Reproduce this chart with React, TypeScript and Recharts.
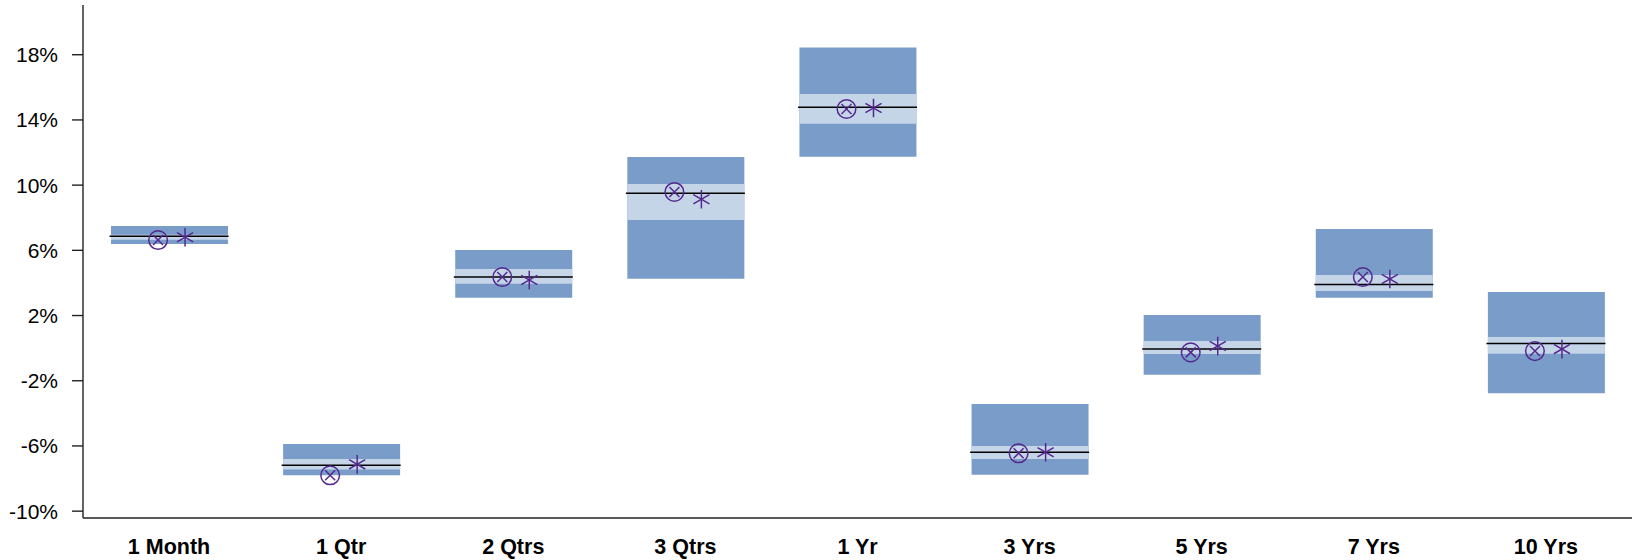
import { ComposedChart, Bar, Scatter, XAxis, YAxis } from "recharts";

const categories = ["1 Month", "1 Qtr", "2 Qtrs", "3 Qtrs", "1 Yr", "3 Yrs", "5 Yrs", "7 Yrs", "10 Yrs"];
const outerLow = [6.39, -7.8, 3.09, 4.26, 11.74, -7.77, -1.63, 3.09, -2.77];
const outerHigh = [7.49, -5.88, 6.02, 11.72, 18.45, -3.43, 2.03, 7.31, 3.44];
const innerLow = [6.65, -7.44, 3.95, 7.86, 13.77, -6.8, -0.36, 3.5, -0.34];
const innerHigh = [6.95, -6.8, 4.85, 10.07, 15.59, -6.01, 0.44, 4.48, 0.68];
const medians = [6.86, -7.19, 4.36, 9.5, 14.77, -6.39, -0.06, 3.91, 0.29];
const means = [6.63, -7.8, 4.36, 9.58, 14.67, -6.45, -0.26, 4.36, -0.18];
const stars = [6.8, -7.13, 4.18, 9.13, 14.73, -6.39, 0.13, 4.24, -0.06];
const yTicks = [-10, -6, -2, 2, 6, 10, 14, 18];

const data = categories.map((name, i) => ({
  name,
  outer: [outerLow[i], outerHigh[i]],
  inner: [innerLow[i], innerHigh[i]],
  median: medians[i],
  mean: means[i],
  star: stars[i],
}));

const PURPLE = "#55288f";
const BOX_W = 117;

const MedianLine = (props: any) => {
  const { cx, cy } = props;
  return <line x1={cx - BOX_W / 2 - 1} x2={cx + BOX_W / 2 + 1} y1={cy} y2={cy} stroke="#000" strokeWidth={1.5} />;
};

const CircleX = (props: any) => {
  const x = props.cx - 11;
  const y = props.cy;
  const d = 5;
  return (
    <g stroke={PURPLE} strokeWidth={1.5} fill="none">
      <circle cx={x} cy={y} r={9.3} />
      <line x1={x - d} y1={y - d} x2={x + d} y2={y + d} />
      <line x1={x - d} y1={y + d} x2={x + d} y2={y - d} />
    </g>
  );
};

const Asterisk = (props: any) => {
  const x = props.cx + 16;
  const y = props.cy;
  const r = 9.3;
  const dx = r * Math.cos(Math.PI / 6);
  const dy = r * Math.sin(Math.PI / 6);
  return (
    <g stroke={PURPLE} strokeWidth={1.5}>
      <line x1={x} y1={y - r} x2={x} y2={y + r} />
      <line x1={x - dx} y1={y - dy} x2={x + dx} y2={y + dy} />
      <line x1={x - dx} y1={y + dy} x2={x + dx} y2={y - dy} />
    </g>
  );
};

export default function App() {
  return (
    <div style={{ position: "absolute", left: 0, top: 0, width: 1632, height: 560, background: "#fff" }}>
      <ComposedChart
        width={1632}
        height={560}
        data={data}
        margin={{ top: 5, right: 0, bottom: 0, left: 0 }}
        style={{ fontFamily: "'Liberation Sans', Arial, sans-serif" }}
      >
        <XAxis
          xAxisId="a"
          dataKey="name"
          height={42}
          tickSize={0}
          tickMargin={21}
          axisLine={{ stroke: "#222", strokeWidth: 1.4 }}
          tick={{ fill: "#000", fontSize: 21.5, fontWeight: "bold" }}
          interval={0}
        />
        <XAxis xAxisId="b" dataKey="name" hide />
        <XAxis
          xAxisId="top"
          dataKey="name"
          orientation="top"
          height={0}
          tick={false}
          tickLine={false}
          axisLine={{ stroke: "#222", strokeWidth: 1.4 }}
        />
        <YAxis
          type="number"
          domain={[-10.42, 21.05]}
          ticks={yTicks}
          width={83}
          tickSize={11}
          tickMargin={14}
          tickFormatter={(v: number) => `${v}%`}
          axisLine={{ stroke: "#222", strokeWidth: 1.4 }}
          tickLine={{ stroke: "#222", strokeWidth: 1.4 }}
          tick={{ fill: "#000", fontSize: 21 }}
          allowDataOverflow
        />
        <Bar xAxisId="a" dataKey="outer" fill="#799dc8" barSize={BOX_W} isAnimationActive={false} />
        <Bar xAxisId="b" dataKey="inner" fill="#c5d5e8" barSize={BOX_W} isAnimationActive={false} />
        <Scatter xAxisId="a" dataKey="median" shape={MedianLine} isAnimationActive={false} />
        <Scatter xAxisId="a" dataKey="mean" shape={CircleX} isAnimationActive={false} />
        <Scatter xAxisId="a" dataKey="star" shape={Asterisk} isAnimationActive={false} />
      </ComposedChart>
    </div>
  );
}
